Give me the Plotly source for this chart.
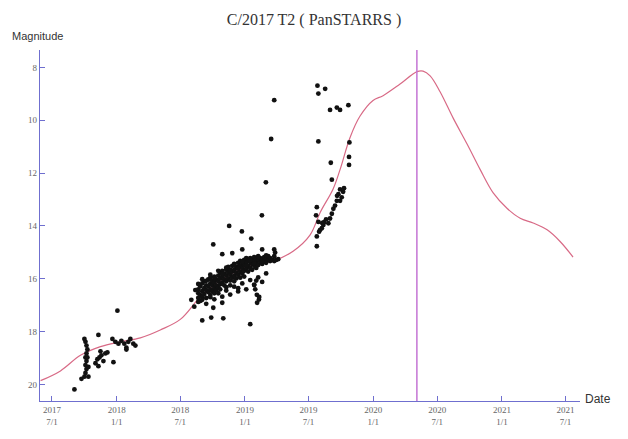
import pandas as pd
import plotly.graph_objects as go

# ---------------- data (decimal years, magnitudes) ----------------
curve_year = [2017.407, 2017.562, 2017.718, 2017.874, 2018.029, 2018.185, 2018.340, 2018.496,
              2018.652, 2018.807, 2019.010, 2019.220, 2019.375, 2019.508, 2019.586, 2019.687,
              2019.741, 2019.819, 2019.897, 2019.998, 2020.076, 2020.208, 2020.340, 2020.387,
              2020.442, 2020.519, 2020.621, 2020.730, 2020.831, 2020.932, 2021.041, 2021.142,
              2021.243, 2021.352, 2021.453, 2021.554]
curve_mag = [19.86, 19.49, 18.90, 18.57, 18.39, 18.24, 17.94, 17.54,
             16.69, 16.07, 15.55, 15.33, 14.96, 14.34, 13.49, 12.60,
             11.87, 10.65, 9.84, 9.25, 9.07, 8.63, 8.16, 8.14,
             8.32, 8.92, 9.92, 10.91, 11.87, 12.75, 13.34, 13.71,
             13.89, 14.15, 14.59, 15.18]

# observations 2017-2018
obs1_year = [2017.671, 2017.726, 2017.749, 2017.757, 2017.765, 2017.757, 2017.765, 2017.757,
             2017.765, 2017.772, 2017.765, 2017.757, 2017.749, 2017.780, 2017.780, 2017.772,
             2017.858, 2018.006, 2017.835, 2017.850, 2017.866, 2017.881, 2017.897, 2017.912,
             2017.928, 2017.858, 2017.975, 2017.967, 2017.990, 2018.014, 2018.037, 2018.060,
             2018.076, 2018.091, 2018.107, 2018.130, 2018.146, 2018.076, 2017.874]
obs1_mag = [20.19, 19.79, 19.71, 19.57, 19.42, 19.27, 19.12, 18.98,
            18.83, 18.68, 18.53, 18.39, 18.28, 19.71, 19.34, 18.98,
            18.13, 17.21, 19.20, 19.05, 18.98, 18.90, 19.12, 18.83,
            18.79, 19.31, 19.16, 18.28, 18.39, 18.46, 18.35, 18.46,
            18.61, 18.39, 18.28, 18.46, 18.53, 18.68, 18.75]

# scattered observations 2018-2019
obs2_year = [2019.228, 2019.204, 2019.163, 2019.132, 2018.877, 2018.976, 2018.753, 2019.049,
             2018.823, 2018.901, 2018.979, 2019.134, 2019.228, 2019.235, 2019.228, 2018.613,
             2018.582, 2018.605, 2018.753, 2018.823, 2018.667, 2018.737, 2018.831, 2019.041,
             2019.093, 2019.109, 2019.072, 2019.080, 2019.095, 2019.111, 2019.088, 2018.947]
obs2_mag = [9.24, 10.71, 12.35, 13.60, 14.00, 14.21, 14.70, 14.48,
            15.07, 15.03, 14.89, 14.89, 14.89, 15.01, 15.15, 16.43,
            16.80, 17.06, 17.10, 16.91, 17.58, 17.47, 17.50, 17.72,
            16.61, 16.79, 16.24, 16.40, 16.91, 16.69, 16.07, 16.36]

# dense band of observations 2018-2019 (date column -> magnitudes)
band_year = [2018.636, 2018.652, 2018.667, 2018.683, 2018.698, 2018.714, 2018.730, 2018.745,
             2018.761, 2018.776, 2018.792, 2018.807, 2018.823, 2018.839, 2018.854, 2018.870,
             2018.885, 2018.901, 2018.916, 2018.932, 2018.947, 2018.963, 2018.979, 2018.994,
             2019.010, 2019.025, 2019.041, 2019.056, 2019.072, 2019.088, 2019.103, 2019.119,
             2019.134, 2019.150, 2019.165, 2019.181, 2019.196, 2019.212, 2019.228, 2019.243,
             2019.259]
band_mags = [[16.55, 16.73, 16.40], [16.62, 16.29, 16.84], [16.47, 16.18, 16.69],
             [16.36, 16.58, 16.10], [16.43, 16.25, 16.73], [16.29, 16.51, 16.03],
             [16.18, 16.40, 16.62, 15.96], [16.25, 16.07, 16.47], [16.14, 16.36, 15.92, 16.55],
             [16.03, 16.25, 16.43], [16.10, 15.88, 16.32], [15.99, 16.21, 15.77, 16.40],
             [15.92, 16.14, 15.70], [16.03, 15.81, 16.25], [15.88, 16.10, 15.66, 16.32],
             [15.77, 15.99, 15.55], [15.85, 15.66, 16.07, 16.25], [15.73, 15.96, 15.51],
             [15.66, 15.88, 15.44, 16.10], [15.77, 15.55, 15.99], [15.62, 15.85, 15.40],
             [15.51, 15.73, 15.96, 15.33], [15.59, 15.44, 15.81], [15.48, 15.70, 15.29, 15.92],
             [15.40, 15.62, 15.22], [15.51, 15.33, 15.73], [15.37, 15.59, 15.22],
             [15.44, 15.29, 15.66], [15.33, 15.51, 15.18], [15.40, 15.26, 15.59],
             [15.29, 15.48, 15.15], [15.37, 15.22], [15.26, 15.44], [15.33, 15.18],
             [15.26, 15.40], [15.29, 15.15], [15.33, 15.22], [15.29], [15.33], [15.29], [15.26]]

# outer edges of the dense band
edge_year = [2018.636, 2018.667, 2018.698, 2018.730, 2018.761, 2018.792, 2018.823, 2018.854,
             2018.885, 2018.916, 2018.947, 2018.979, 2019.010, 2019.041, 2019.072, 2019.103,
             2019.134, 2019.165]
edge_mags = [[16.20, 16.88], [16.02, 16.80], [16.08, 16.95], [15.85, 16.70], [15.95, 16.78],
             [15.70, 16.55], [15.82, 16.68], [15.58, 16.45], [15.70, 16.60], [15.48, 16.30],
             [15.60, 16.48], [15.36, 16.18], [15.50, 16.40], [15.30, 16.05], [15.42, 16.22],
             [15.18, 15.95], [15.35, 16.12], [15.12, 15.80]]

# observations 2019 (approach)
obs3_year = [2019.565, 2019.572, 2019.625, 2019.663, 2019.716, 2019.741, 2019.806, 2019.572,
             2019.814, 2019.669, 2019.811, 2019.811, 2019.677, 2019.741, 2019.754, 2019.716,
             2019.689, 2019.677, 2019.663, 2019.650, 2019.611, 2019.599, 2019.560, 2019.554,
             2019.572, 2019.586, 2019.560, 2019.560, 2019.728, 2019.702, 2019.741, 2019.765,
             2019.772, 2019.632, 2019.617, 2019.578, 2019.602, 2019.718]
obs3_mag = [8.69, 8.99, 8.81, 9.61, 9.52, 9.61, 9.43, 10.80,
            10.84, 11.61, 11.39, 11.69, 12.25, 12.62, 12.92, 13.05,
            13.35, 13.54, 13.72, 13.90, 13.97, 14.09, 13.29, 13.60,
            13.85, 14.15, 14.40, 14.77, 12.80, 13.23, 13.05, 12.71,
            12.57, 13.75, 13.86, 14.22, 13.89, 12.86]

perihelion = "2020-05-04"
tick_dates = ["2017-07-01", "2018-01-01", "2018-07-01", "2019-01-01", "2019-07-01",
              "2020-01-01", "2020-07-01", "2021-01-01", "2021-07-01"]
tick_text = ["2017<br>7/1", "2018<br>1/1", "2018<br>7/1", "2019<br>1/1", "2019<br>7/1",
             "2020<br>1/1", "2020<br>7/1", "2021<br>1/1", "2021<br>7/1"]
y_ticks = [8, 10, 12, 14, 16, 18, 20]
x_range = ["2017-05-28", "2021-08-11"]
y_range = [20.63, 7.34]


def to_date(yrs):
    out = []
    for y in yrs:
        yi = int(y)
        start = pd.Timestamp(year=yi, month=1, day=1)
        days = (pd.Timestamp(year=yi + 1, month=1, day=1) - start).days
        out.append(start + pd.Timedelta(days=(y - yi) * days))
    return out


obs_year = obs1_year + obs2_year + obs3_year
obs_mag = obs1_mag + obs2_mag + obs3_mag
for cols, mags_list in ((band_year, band_mags), (edge_year, edge_mags)):
    for yr, mags in zip(cols, mags_list):
        for m in mags:
            obs_year.append(yr)
            obs_mag.append(m)

AXIS = "#6f6fcf"
fig = go.Figure()
fig.add_trace(go.Scatter(x=to_date(curve_year), y=curve_mag, mode="lines",
                         line=dict(color="#d86a86", width=1.2, shape="spline"),
                         hoverinfo="skip"))
fig.add_trace(go.Scatter(x=to_date(obs_year), y=obs_mag, mode="markers",
                         marker=dict(color="#111111", size=4.8)))
fig.add_shape(type="line", x0=perihelion, x1=perihelion, y0=0, y1=1, xref="x", yref="paper",
              line=dict(color="#c474d4", width=1.5))

L, R, T, B = 40, 48, 50, 28
W, H = 628, 439
fig.update_layout(
    width=W, height=H,
    margin=dict(l=L, r=R, t=T, b=B),
    paper_bgcolor="white", plot_bgcolor="white",
    showlegend=False,
    title=dict(text="C/2017 T2 ( PanSTARRS )", x=0.5, xanchor="center", y=1 - 19 / H,
               yanchor="middle", font=dict(family="Liberation Serif", size=16, color="#333333")),
    font=dict(family="Liberation Serif", size=9, color="#666666"),
)
fig.update_xaxes(range=x_range, tickvals=tick_dates, ticktext=tick_text,
                 showgrid=False, zeroline=False, showline=True, linecolor=AXIS, linewidth=1.2,
                 ticks="inside", ticklen=5, tickcolor=AXIS,
                 tickfont=dict(family="Liberation Serif", size=9, color="#666666"))
fig.update_yaxes(range=y_range, tickvals=y_ticks, ticktext=[str(v) for v in y_ticks],
                 showgrid=False, zeroline=False, showline=True, linecolor=AXIS, linewidth=1.2,
                 ticks="inside", ticklen=5, tickcolor=AXIS,
                 tickfont=dict(family="Liberation Serif", size=9, color="#666666"))

pw, ph = W - L - R, H - T - B
fig.add_annotation(text="Magnitude", xref="paper", yref="paper",
                   x=(10 - L) / pw, y=(H - B - 36) / ph, xanchor="left", yanchor="middle",
                   showarrow=False, font=dict(family="Liberation Sans", size=11, color="#333333"))
fig.add_annotation(text="Date", xref="paper", yref="paper",
                   x=(583 - L) / pw, y=(H - B - 409) / ph, xanchor="left", yanchor="middle",
                   showarrow=False, font=dict(family="Liberation Sans", size=12, color="#333333"))

fig.write_html("out.html")
